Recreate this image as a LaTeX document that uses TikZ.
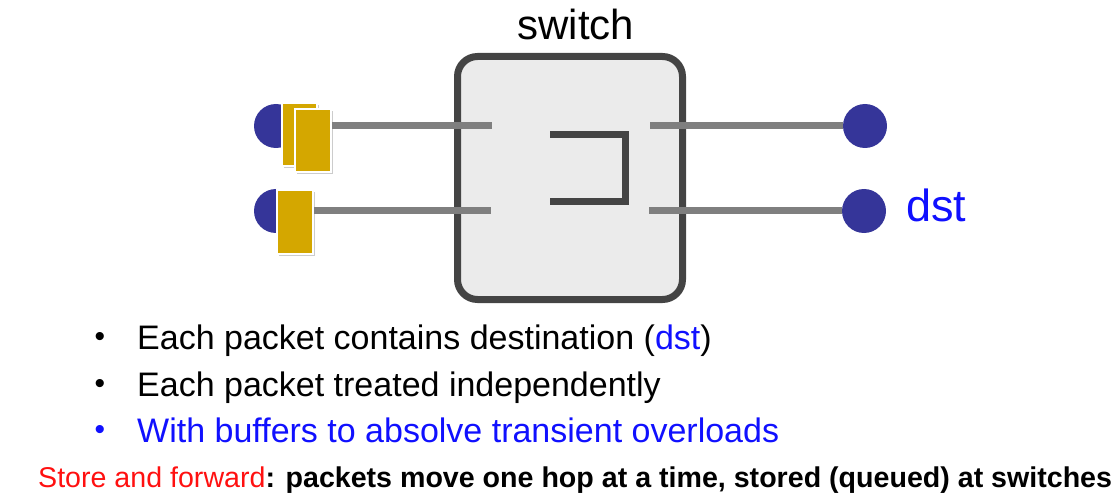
\documentclass[tikz,border=0pt]{standalone}
\usepackage{fontspec}
\setmainfont{Liberation Sans}
\usetikzlibrary{shadows}
\definecolor{boxfill}{HTML}{EBEBEB}
\definecolor{boxline}{HTML}{444444}
\definecolor{wire}{HTML}{7F7F7F}
\definecolor{hostblue}{HTML}{353599}
\definecolor{pktgold}{HTML}{D4A700}
\definecolor{txtblue}{HTML}{1010FF}
\definecolor{txtred}{HTML}{FF1010}
\tikzset{
  host/.style={circle, fill=hostblue, minimum size=44pt, inner sep=0pt},
  wireline/.style={draw=wire, line width=7pt},
  pkt/.style={rectangle, fill=pktgold, draw=white, line width=1.6pt, inner sep=0pt,
    drop shadow={shadow xshift=2pt, shadow yshift=-2pt, opacity=0.4}},
  bullettxt/.style={anchor=base west, inner sep=0pt, font=\fontsize{34}{40}\selectfont},
  bulletdot/.style={inner sep=0pt, font=\fontsize{30}{36}\selectfont},
}
\begin{document}
\begin{tikzpicture}[x=1pt, y=-1pt]
\useasboundingbox (0,0) rectangle (1120,500);
% switch box
\draw[fill=boxfill, draw=boxline, line width=7pt, rounded corners=20pt]
  (457.5,56.5) rectangle (682.5,299.5);
\node[anchor=base, inner sep=0pt, font=\fontsize{42}{48}\selectfont] (swlabel) at (576,40) {switch};
% internal bracket
\draw[draw=boxline, line width=7pt, miter limit=10] (550,135) -- (625,135) -- (625,202) -- (550,202);
% coordinates of inner wire ends
\coordinate (inA) at (492,126);
\coordinate (inB) at (491,211);
\coordinate (outA) at (650,126);
\coordinate (outB) at (649,211);
% hosts
\node[host] (s1) at (276,126) {};
\node[host] (s2) at (276,211) {};
\node[host] (d1) at (865,126) {};
\node[host] (d2) at (864,211) {};
% wires
\draw[wireline] (s1) -- (inA);
\draw[wireline] (s2) -- (inB);
\draw[wireline] (outA) -- (d1);
\draw[wireline] (outB) -- (d2);
% packets
\node[pkt, minimum width=35pt, minimum height=63pt] (p1) at (299.5,134.5) {};
\node[pkt, minimum width=36pt, minimum height=63pt] (p2) at (313,140.5) {};
\node[pkt, minimum width=36pt, minimum height=64pt] (p3) at (295,222) {};
% dst label
\node[anchor=base west, inner sep=0pt, text=txtblue, font=\fontsize{45}{52}\selectfont] (dstlabel) at (906,222) {dst};
% bullets
\node[bulletdot] (b1) at (100,339) {•};
\node[bulletdot] (b2) at (100,386) {•};
\node[bulletdot, text=txtblue] (b3) at (100,432) {•};
\node[bullettxt] (t1) at (137,349) {Each packet contains destination (\textcolor{txtblue}{dst})};
\node[bullettxt] (t2) at (137,396) {Each packet treated independently};
\node[bullettxt, text=txtblue] (t3) at (137,442) {With buffers to absolve transient overloads};
% bottom line
\node[anchor=base west, inner sep=0pt, font=\fontsize{28.6}{34}\selectfont] (bottom) at (38,487)
  {\textcolor{txtred}{Store and forward}\textbf{: packets move one hop at a time, stored (queued) at switches}};
\end{tikzpicture}
\end{document}
